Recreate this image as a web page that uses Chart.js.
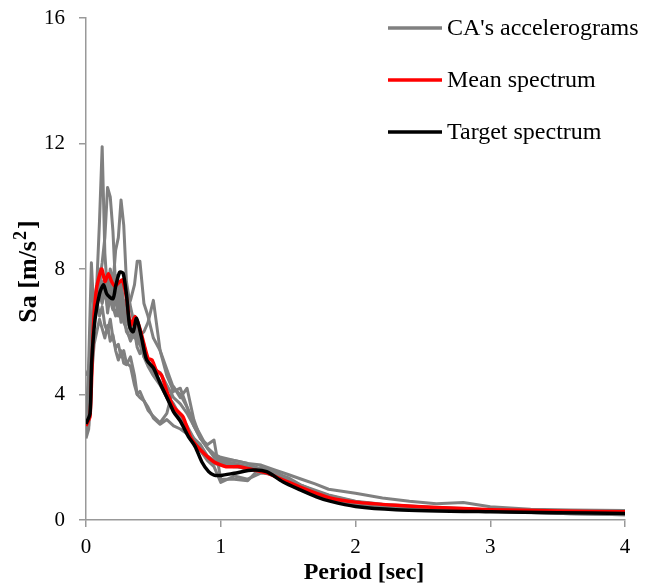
<!DOCTYPE html>
<html>
<head>
<meta charset="utf-8">
<script src="https://cdn.jsdelivr.net/npm/chart.js@4.4.0/dist/chart.umd.min.js"></script>
<style>
  html, body { margin: 0; padding: 0; background: #fff; }
  #wrap { width: 656px; height: 588px; }
</style>
</head>
<body>
<div id="wrap"><canvas id="spectrumChart" width="656" height="588"></canvas></div>
<script>
// ---- data ----
const xTicks = [0, 1, 2, 3, 4];
const yTicks = [0, 4, 8, 12, 16];

// target spectrum (black)
const targetPeriods = [0, 0.03, 0.042, 0.067, 0.1, 0.13, 0.155, 0.2, 0.22, 0.25, 0.275, 0.3, 0.325, 0.35, 0.375, 0.41, 0.45, 0.5, 0.55, 0.61, 0.65, 0.7, 0.76, 0.81, 0.86, 0.91, 0.95, 1.0, 1.1, 1.24, 1.34, 1.46, 1.59, 1.71, 1.81, 2.0, 2.3, 3.0, 3.5, 4.0];
const targetSa      = [3.06, 3.4, 5.0, 6.4, 7.2, 7.5, 7.2, 7.05, 7.45, 7.9, 7.87, 7.2, 6.15, 6.0, 6.43, 5.85, 5.1, 4.85, 4.36, 3.82, 3.45, 3.15, 2.66, 2.34, 1.85, 1.54, 1.43, 1.42, 1.49, 1.59, 1.54, 1.22, 0.96, 0.74, 0.6, 0.43, 0.33, 0.26, 0.23, 0.21];

// mean spectrum (red)
const meanPeriods = [0, 0.03, 0.054, 0.079, 0.116, 0.141, 0.166, 0.19, 0.215, 0.24, 0.27, 0.3, 0.33, 0.364, 0.4, 0.46, 0.49, 0.52, 0.56, 0.6, 0.65, 0.72, 0.78, 0.85, 0.95, 1.04, 1.14, 1.24, 1.34, 1.46, 1.59, 1.71, 1.81, 2.0, 2.3, 2.6, 3.0, 3.5, 4.0];
const meanSa      = [3.0, 3.3, 6.1, 7.4, 8.0, 7.6, 7.85, 7.6, 7.45, 7.55, 7.65, 7.1, 6.2, 6.48, 6.1, 5.15, 5.1, 4.78, 4.62, 4.1, 3.6, 3.29, 2.6, 2.23, 1.85, 1.7, 1.7, 1.6, 1.5, 1.28, 1.05, 0.85, 0.7, 0.57, 0.47, 0.4, 0.33, 0.29, 0.26];

// CA's accelerograms (grey), all on one period grid
const recordPeriods = [0, 0.02, 0.04, 0.06, 0.08, 0.1, 0.12, 0.14, 0.16, 0.18, 0.2, 0.22, 0.24, 0.26, 0.28, 0.3, 0.33, 0.36, 0.38, 0.4, 0.43, 0.46, 0.5, 0.55, 0.6, 0.65, 0.7, 0.75, 0.8, 0.85, 0.9, 0.95, 1.0, 1.1, 1.2, 1.3, 1.4, 1.5, 1.6, 1.7, 1.8, 2.0, 2.2, 2.4, 2.6, 2.8, 3.0, 3.3, 3.6, 4.0];
const record1 = [2.9, 3.4, 5.5, 6.8, 7.5, 9.5, 11.9, 8.5, 7.2, 7.6, 7.0, 7.8, 7.4, 6.8, 7.0, 6.5, 6.0, 5.8, 6.2, 5.6, 5.2, 4.9, 4.6, 4.3, 3.9, 3.5, 3.2, 2.9, 2.5, 2.2, 1.95, 1.8, 1.75, 1.7, 1.65, 1.6, 1.45, 1.25, 1.05, 0.88, 0.74, 0.55, 0.45, 0.4, 0.36, 0.32, 0.29, 0.26, 0.24, 0.22];
const record2 = [3.0, 3.3, 6.0, 7.2, 6.8, 7.6, 8.2, 9.0, 10.6, 10.3, 9.2, 7.4, 7.0, 7.6, 6.9, 6.4, 6.1, 6.5, 5.9, 5.6, 5.5, 5.0, 4.7, 4.4, 4.0, 3.7, 3.3, 3.0, 2.6, 2.3, 2.0, 1.9, 1.85, 1.8, 1.7, 1.65, 1.5, 1.3, 1.1, 0.9, 0.75, 0.58, 0.48, 0.42, 0.38, 0.35, 0.31, 0.27, 0.25, 0.23];
const record3 = [2.7, 3.0, 5.2, 6.5, 7.0, 7.4, 7.6, 7.1, 7.3, 8.0, 7.5, 8.6, 9.0, 10.2, 9.4, 7.6, 6.8, 6.2, 6.0, 5.7, 5.2, 5.1, 4.8, 4.4, 3.9, 3.6, 3.3, 2.9, 2.6, 2.4, 2.05, 1.9, 1.8, 1.75, 1.6, 1.55, 1.4, 1.2, 1.0, 0.85, 0.7, 0.52, 0.44, 0.4, 0.36, 0.33, 0.3, 0.26, 0.24, 0.22];
const record4 = [4.6, 4.8, 6.2, 7.0, 7.4, 7.2, 6.9, 7.3, 6.8, 7.0, 7.5, 7.1, 6.6, 7.2, 6.4, 6.8, 7.0, 7.5, 8.25, 8.25, 6.9, 6.5, 5.8, 5.4, 4.8, 4.2, 4.0, 3.6, 3.0, 2.6, 2.3, 2.1, 1.95, 1.9, 1.8, 1.6, 1.45, 1.3, 1.1, 0.92, 0.78, 0.58, 0.48, 0.42, 0.38, 0.36, 0.3, 0.27, 0.25, 0.23];
const record5 = [2.8, 5.0, 8.2, 6.5, 7.3, 7.8, 7.0, 7.6, 6.6, 7.2, 6.8, 6.5, 7.0, 6.3, 6.6, 6.0, 5.8, 6.2, 5.6, 5.9, 6.0, 6.3, 7.0, 5.4, 4.6, 4.1, 4.2, 3.6, 3.1, 2.7, 2.3, 2.0, 1.9, 1.8, 1.7, 1.6, 1.5, 1.35, 1.1, 0.95, 0.8, 0.6, 0.5, 0.45, 0.4, 0.37, 0.32, 0.28, 0.26, 0.24];
const record6 = [2.6, 2.9, 4.5, 5.6, 6.0, 6.4, 6.1, 5.8, 6.2, 5.7, 5.9, 5.4, 5.1, 5.4, 5.0, 4.95, 5.2, 4.6, 4.0, 4.1, 3.8, 3.6, 3.25, 3.05, 3.2, 3.0, 2.9, 2.75, 2.5, 2.2, 1.9, 1.7, 1.2, 1.4, 1.3, 1.5, 1.45, 1.2, 1.0, 0.82, 0.65, 0.5, 0.42, 0.38, 0.34, 0.31, 0.28, 0.24, 0.2, 0.17];
const record7 = [3.1, 3.3, 5.8, 6.6, 7.0, 6.5, 6.8, 6.2, 6.0, 6.4, 5.8, 5.5, 5.6, 5.2, 5.4, 5.0, 4.9, 4.3, 4.0, 3.9, 3.8, 3.5, 3.3, 3.1, 3.4, 4.25, 3.9, 4.2, 3.2, 2.6, 2.4, 2.55, 1.3, 1.3, 1.25, 1.7, 1.55, 1.3, 1.05, 0.85, 0.68, 0.5, 0.42, 0.38, 0.35, 0.32, 0.28, 0.24, 0.2, 0.17];
const record8 = [3.0, 3.2, 5.4, 6.7, 7.2, 8.0, 7.0, 7.8, 7.5, 7.0, 6.7, 7.1, 6.5, 6.9, 6.3, 6.1, 5.7, 6.0, 5.5, 5.3, 5.6, 5.0, 4.8, 4.7, 4.3, 3.9, 3.7, 3.4, 3.0, 2.6, 2.3, 2.1, 2.0, 1.9, 1.8, 1.75, 1.6, 1.45, 1.3, 1.15, 0.98, 0.85, 0.7, 0.6, 0.52, 0.56, 0.42, 0.34, 0.32, 0.3];
const records = [record1, record2, record3, record4, record5, record6, record7, record8];

const legendLabels = ["CA's accelerograms", 'Mean spectrum', 'Target spectrum'];
const legendColors = ['#808080', '#ff0000', '#000000'];

const SERIF = "'Liberation Serif', 'Times New Roman', serif";

function toPoints(xs, ys) {
    return xs.map((x, i) => ({ x: x, y: ys[i] }));
}

// first dataset ends up on top, so black goes first and greys last
const datasets = [
    { label: legendLabels[2], data: toPoints(targetPeriods, targetSa), borderColor: legendColors[2], borderWidth: 3.5, tension: 0.25 },
    { label: legendLabels[1], data: toPoints(meanPeriods, meanSa), borderColor: legendColors[1], borderWidth: 3.5, tension: 0.2 }
];
records.forEach((rec, i) => {
    datasets.push({
        label: i === 0 ? legendLabels[0] : '',
        data: toPoints(recordPeriods, rec),
        borderColor: legendColors[0],
        borderWidth: 3,
        tension: 0
    });
});

// legend and axis titles drawn by hand (legend overlaps the plot, y title needs a real superscript)
const chartDecor = {
    id: 'chartDecor',
    afterDraw(chart) {
        const ctx = chart.ctx;
        ctx.save();
        ctx.font = '24px ' + SERIF;
        ctx.textBaseline = 'middle';
        ctx.lineCap = 'butt';
        legendLabels.forEach((label, i) => {
            const y = 28 + i * 52;
            ctx.strokeStyle = legendColors[i];
            ctx.lineWidth = 3.5;
            ctx.beginPath();
            ctx.moveTo(388, y);
            ctx.lineTo(442, y);
            ctx.stroke();
            ctx.fillStyle = '#000';
            ctx.fillText(label, 447, y + 1);
        });

        // x title
        ctx.font = 'bold 24px ' + SERIF;
        ctx.textAlign = 'center';
        ctx.fillText('Period [sec]', 364, 573);

        // y title with superscript 2
        const bigFont = 'bold 26px ' + SERIF;
        const smallFont = 'bold 18px ' + SERIF;
        ctx.translate(27, 272);
        ctx.rotate(-Math.PI / 2);
        ctx.textAlign = 'left';
        ctx.textBaseline = 'alphabetic';
        ctx.font = bigFont;
        const w1 = ctx.measureText('Sa [m/s').width;
        const w3 = ctx.measureText(']').width;
        ctx.font = smallFont;
        const w2 = ctx.measureText('2').width + 2;
        let x = -(w1 + w2 + w3) / 2;
        const base = 9;
        ctx.font = bigFont;
        ctx.fillText('Sa [m/s', x, base);
        x += w1 + 1;
        ctx.font = smallFont;
        ctx.fillText('2', x, base - 10);
        x += w2;
        ctx.font = bigFont;
        ctx.fillText(']', x, base);
        ctx.restore();
    }
};

new Chart(document.getElementById('spectrumChart').getContext('2d'), {
    type: 'line',
    data: { datasets: datasets },
    options: {
        responsive: false,
        animation: false,
        layout: { padding: { top: 18, right: 31, left: 0, bottom: 0 } },
        elements: { point: { radius: 0 }, line: { fill: false, borderJoinStyle: 'round' } },
        plugins: { legend: { display: false }, tooltip: { enabled: false } },
        scales: {
            x: {
                type: 'linear',
                min: 0,
                max: 4,
                afterBuildTicks: (scale) => { scale.ticks = xTicks.map(v => ({ value: v })); },
                afterFit: (scale) => { scale.height = 68; scale.paddingLeft = 0; scale.paddingRight = 0; },
                grid: { display: true, drawOnChartArea: false, drawTicks: true, tickLength: 7, color: '#999', lineWidth: 1.5 },
                border: { color: '#999', width: 1.5 },
                ticks: { color: '#000', padding: 8, font: { family: SERIF, size: 21 } },
                title: { display: false }
            },
            y: {
                min: 0,
                max: 16,
                afterBuildTicks: (scale) => { scale.ticks = yTicks.map(v => ({ value: v })); },
                afterFit: (scale) => { scale.width = 86; scale.paddingTop = 0; scale.paddingBottom = 0; },
                grid: { display: true, drawOnChartArea: false, drawTicks: true, tickLength: 7, color: '#999', lineWidth: 1.5 },
                border: { color: '#999', width: 1.5 },
                ticks: { color: '#000', padding: 14, font: { family: SERIF, size: 21 } },
                title: { display: false }
            }
        }
    },
    plugins: [chartDecor]
});
</script>
</body>
</html>
